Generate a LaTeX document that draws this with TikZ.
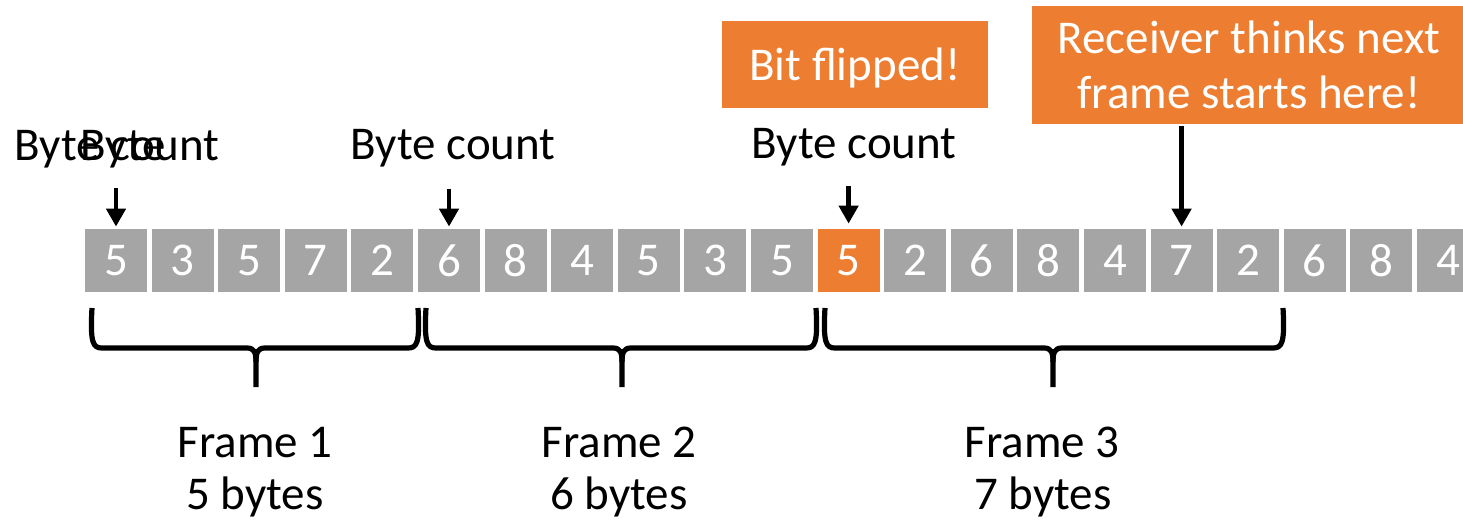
\documentclass[tikz,border=0pt]{standalone}
\usepackage{fontspec}
\setmainfont{Carlito}
\usetikzlibrary{arrows.meta,calc}
\definecolor{cellgray}{HTML}{A5A5A5}
\definecolor{accent}{HTML}{ED7D31}
% one brace under a frame: left end, tip, right end
\newcommand\fbrace[3]{%
  \draw[brace] (#1,308) .. controls (#1-2,343) and (#1+1,348) .. (#1+10,348)
     -- (#2-9,348) .. controls (#2-2,348) and (#2,352) .. (#2,362) -- (#2,387);
  \draw[brace] (#3,308) .. controls (#3+2,343) and (#3-1,348) .. (#3-10,348)
     -- (#2+9,348) .. controls (#2+2,348) and (#2,352) .. (#2,362);}
\begin{document}
\begin{tikzpicture}[x=0.5pt,y=-0.5pt,
  every node/.style={font=\fontsize{23.5}{27}\selectfont, inner sep=0pt},
  cell/.style={minimum width=31pt, minimum height=31.5pt, text=white},
  lbl/.style={anchor=base, text=black},
  wlbl/.style={anchor=base, text=white},
  callout/.style={fill=accent},
  arr/.style={line width=2.4pt, -{Triangle[width=9.5pt,length=9pt]}},
  brace/.style={line width=2.6pt, line join=round}]
\clip (0,0) rectangle (1463,525);
\fill[white] (0,0) rectangle (1463,525);

% the byte stream
\foreach \v/\c [count=\i from 0] in {5/cellgray,3/cellgray,5/cellgray,7/cellgray,2/cellgray,
    6/cellgray,8/cellgray,4/cellgray,5/cellgray,3/cellgray,5/cellgray,
    5/accent,2/cellgray,6/cellgray,8/cellgray,4/cellgray,7/cellgray,2/cellgray,
    6/cellgray,8/cellgray,4/cellgray}
  \node[cell, fill=\c] (c\i) at ({116+66.6*\i},260.5) {\v};

% byte count labels
\node[lbl] (bc1) at (117,160) {Byte count};
\node[lbl, anchor=base west] (bc1b) at (80,160) {Byte};
\node[lbl] (bc2) at (453,159) {Byte count};
\node[lbl] (bc3) at (854,158) {Byte count};

\draw[arr, shorten <=10pt, shorten >=1pt] (bc1.south -| c0.north) -- (c0.north);
\draw[arr, shorten <=11pt, shorten >=1pt] (bc2.south -| c5.north) -- (c5.north);
\draw[arr, shorten <=10pt, shorten >=2.5pt] (bc3.south -| c11.north) -- (c11.north);

% callouts
\node[callout, minimum width=133pt, minimum height=43.5pt] (flip) at (855,64.5) {};
\node[wlbl] (flipt) at (855,80) {Bit flipped!};
\node[callout, minimum width=219.5pt, minimum height=59pt] (recv) at (1251.5,65) {};
\node[wlbl] (recv1) at (1249,53) {Receiver thinks next};
\node[wlbl] (recv2) at (1249,108) {frame starts here!};
\draw[arr, line width=2.8pt, shorten <=1pt, shorten >=1pt] (recv.south -| c16.north) -- (c16.north);

% frames
\fbrace{92}{256}{418}
\fbrace{426}{622}{816}
\fbrace{825}{1053}{1283}

\node[lbl] (f1) at (255,457) {Frame 1};
\node[lbl] (f1n) at (255,509) {5 bytes};
\node[lbl] (f2) at (619,457) {Frame 2};
\node[lbl] (f2n) at (619,509) {6 bytes};
\node[lbl] (f3) at (1042,457) {Frame 3};
\node[lbl] (f3n) at (1043,509) {7 bytes};
\end{tikzpicture}
\end{document}
